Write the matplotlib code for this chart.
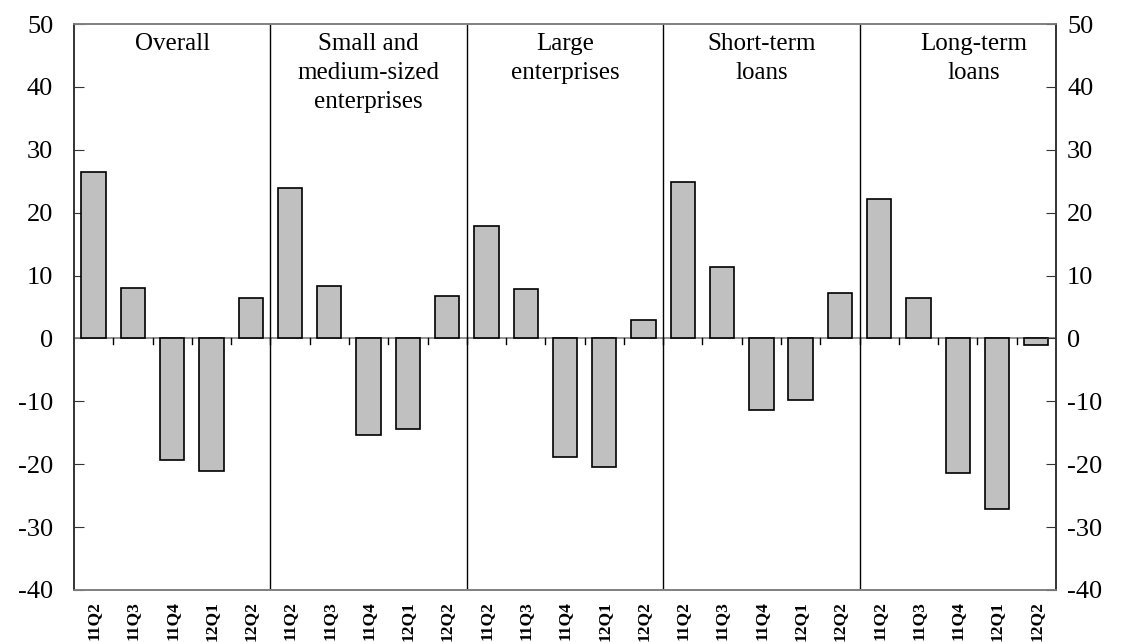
import matplotlib
matplotlib.use('Agg')
import matplotlib.pyplot as plt
import numpy as np

plt.rcParams['font.family'] = ['Liberation Serif', 'DejaVu Serif']
plt.rcParams['axes.unicode_minus'] = False

groups = ['Overall', 'Small and\nmedium-sized\nenterprises', 'Large\nenterprises',
          'Short-term\nloans', 'Long-term\nloans']
quarters = ['11Q2', '11Q3', '11Q4', '12Q1', '12Q2']

overall = [26.5, 8.0, -19.4, -21.0, 6.5]
sme = [24.0, 8.4, -15.4, -14.4, 6.8]
large = [17.9, 7.9, -18.9, -20.5, 3.0]
short_term = [24.9, 11.3, -11.3, -9.8, 7.3]
long_term = [22.2, 6.4, -21.4, -27.1, -1.1]

series = [overall, sme, large, short_term, long_term]
values = np.concatenate(series)
labels = quarters * len(groups)
x = np.arange(len(values))
yticks = np.arange(-40, 51, 10)

fig = plt.figure(figsize=(11.23, 6.42), dpi=100)
ax = fig.add_axes([0.0659, 0.081, 0.8744, 0.8816])

ax.bar(x, values, width=0.62, color='#c0c0c0', edgecolor='black', linewidth=1.2, zorder=3)

ax.set_xlim(-0.5, len(values) - 0.5)
ax.set_ylim(-40, 50)
ax.set_yticks(yticks)

# zero line with little ticks between bars
ax.axhline(0, color='#808080', linewidth=1.2, zorder=2)
n = len(quarters)
for b in np.arange(0.5, len(values) - 0.5, 1.0):
    ax.plot([b, b], [0, -0.9], color='black', linewidth=1, zorder=2)

# group separators and titles
for g in range(len(groups)):
    if g > 0:
        ax.axvline(g * n - 0.5, color='black', linewidth=1, zorder=2)
    cx = g * n + (n - 1) / 2
    if g == len(groups) - 1:
        cx += 0.4
    ax.text(cx, 48.6, groups[g], ha='center', va='top', fontsize=18, linespacing=1.42)

ax.set_xticks(x)
ax.set_xticklabels(labels, rotation=90, fontsize=12.5, fontweight='bold')
ax.tick_params(axis='x', length=0, pad=8)
ax.tick_params(axis='y', direction='in', length=7, labelsize=19, pad=15, color='#333333')

ax2 = ax.twinx()
ax2.set_ylim(-40, 50)
ax2.set_yticks(yticks)
ax2.tick_params(axis='y', direction='in', length=7, labelsize=19, pad=8, color='#333333')

for a in [ax, ax2]:
    for s in ['top', 'bottom']:
        a.spines[s].set_color('#808080')
        a.spines[s].set_linewidth(1.2)
    for s in ['left', 'right']:
        a.spines[s].set_color('#333333')
        a.spines[s].set_linewidth(1.2)

fig.savefig('out.png', dpi=100)
